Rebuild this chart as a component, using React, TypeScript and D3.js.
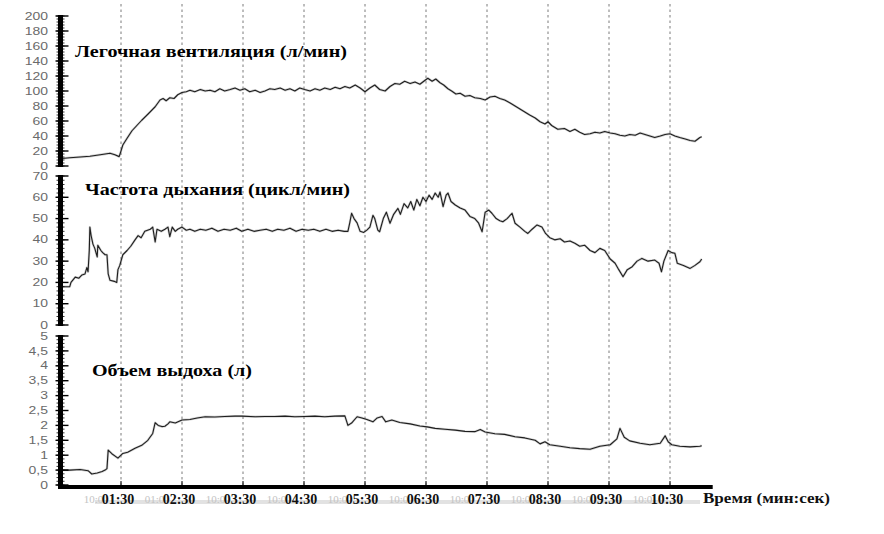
import React from 'react';
import * as d3 from 'd3';

const timeTicks = [1.5, 2.5, 3.5, 4.5, 5.5, 6.5, 7.5, 8.5, 9.5, 10.5];
const timeLabels = ['01:30', '02:30', '03:30', '04:30', '05:30', '06:30', '07:30', '08:30', '09:30', '10:30'];
const ghostTicks = [1.0, 2.0, 3.0, 4.0, 5.0, 6.0, 7.0, 8.0, 9.0, 10.0];
const ghostLabels = ['10:0', '01:0', '10:0', '10:0', '10:0', '10:0', '10:0', '10:0', '10:0', '10:0'];

const ventTicks = [0, 20, 40, 60, 80, 100, 120, 140, 160, 180, 200];
const ventTickLabels = ['0', '20', '40', '60', '80', '100', '120', '140', '160', '180', '200'];
const freqTicks = [0, 10, 20, 30, 40, 50, 60, 70];
const freqTickLabels = ['0', '10', '20', '30', '40', '50', '60', '70'];
const volTicks = [0, 0.5, 1, 1.5, 2, 2.5, 3, 3.5, 4, 4.5, 5];
const volTickLabels = ['0', '0,5', '1', '1,5', '2', '2,5', '3', '3,5', '4', '4,5', '5'];

const titles = ['Легочная вентиляция (л/мин)', 'Частота дыхания (цикл/мин)', 'Объем выдоха (л)'];
const xAxisTitle = 'Время (мин:сек)';

// [minutes, value]
const ventilation: [number, number][] = [
  [0.53, 10], [0.66, 11], [0.83, 12], [0.99, 13], [1.16, 15], [1.32, 17], [1.40, 15], [1.47, 12.5],
  [1.50, 20], [1.53, 28], [1.60, 37], [1.68, 47], [1.76, 54], [1.84, 61], [1.94, 69], [2.06, 79],
  [2.14, 88], [2.19, 90], [2.24, 87], [2.30, 91], [2.37, 90], [2.43, 95], [2.50, 98], [2.57, 99],
  [2.63, 101], [2.71, 99], [2.80, 102], [2.88, 100], [2.96, 101], [3.04, 99], [3.12, 103], [3.20, 100],
  [3.29, 102], [3.37, 104], [3.45, 101], [3.53, 103], [3.61, 99], [3.70, 101], [3.78, 98], [3.86, 100],
  [3.94, 103], [4.02, 102], [4.11, 104], [4.19, 101], [4.27, 103], [4.35, 100], [4.43, 104], [4.51, 102],
  [4.60, 100], [4.68, 103], [4.76, 101], [4.84, 104], [4.93, 102], [5.01, 105], [5.09, 103], [5.17, 106],
  [5.25, 104], [5.34, 108], [5.42, 104], [5.50, 99], [5.58, 104], [5.66, 108], [5.74, 102], [5.83, 100],
  [5.91, 106], [5.99, 110], [6.07, 109], [6.15, 113], [6.24, 110], [6.32, 112], [6.40, 109], [6.48, 114],
  [6.53, 117], [6.60, 113], [6.66, 116], [6.73, 111], [6.79, 108], [6.86, 103], [6.92, 100], [6.99, 96],
  [7.06, 97], [7.14, 93], [7.22, 94], [7.30, 91], [7.39, 90], [7.47, 88], [7.55, 92], [7.63, 93],
  [7.71, 90], [7.79, 88], [7.88, 84], [7.96, 80], [8.04, 76], [8.12, 72], [8.20, 68], [8.29, 64],
  [8.37, 59], [8.45, 56], [8.50, 59], [8.56, 54], [8.66, 49], [8.77, 50], [8.86, 46], [8.94, 49],
  [9.02, 45], [9.10, 42], [9.19, 43], [9.27, 45], [9.35, 44], [9.43, 46], [9.52, 44], [9.60, 43],
  [9.68, 41], [9.76, 40], [9.84, 42], [9.93, 41], [10.01, 44], [10.09, 42], [10.17, 40], [10.25, 38],
  [10.34, 40], [10.42, 42], [10.50, 43], [10.58, 40], [10.66, 38], [10.75, 36], [10.83, 34], [10.91, 33],
  [10.99, 38], [11.02, 39],
];

const frequency: [number, number][] = [
  [0.53, 18], [0.60, 18], [0.66, 18], [0.68, 20], [0.75, 22.5], [0.81, 22], [0.86, 23.5], [0.91, 24],
  [0.94, 27], [0.96, 25], [0.98, 35], [0.99, 46], [1.01, 42], [1.04, 38], [1.07, 36], [1.11, 32],
  [1.12, 37.5], [1.17, 35], [1.20, 34], [1.24, 33], [1.27, 33], [1.29, 24], [1.32, 21], [1.39, 20.5],
  [1.43, 20], [1.45, 26], [1.48, 28], [1.53, 33], [1.60, 35], [1.66, 37], [1.73, 40], [1.78, 42],
  [1.83, 41], [1.89, 44], [1.98, 45], [2.02, 46], [2.06, 39], [2.09, 45], [2.16, 44], [2.22, 45],
  [2.27, 46], [2.30, 41.5], [2.34, 46], [2.39, 44], [2.43, 45], [2.50, 46], [2.57, 44.5], [2.63, 45],
  [2.71, 44], [2.80, 45], [2.89, 44.5], [2.99, 45.5], [3.09, 44], [3.19, 45], [3.29, 44.5], [3.39, 45.5],
  [3.48, 44], [3.58, 45], [3.68, 44], [3.78, 44.5], [3.88, 45], [3.98, 44], [4.07, 45], [4.17, 44.5],
  [4.27, 45.5], [4.37, 44], [4.47, 45], [4.57, 44.5], [4.66, 45], [4.76, 44], [4.86, 45], [4.96, 44],
  [5.06, 44.5], [5.16, 44], [5.22, 44], [5.25, 48], [5.28, 52.5], [5.32, 50], [5.37, 48], [5.42, 44],
  [5.48, 43.5], [5.53, 44.6], [5.58, 46], [5.63, 51.5], [5.66, 50], [5.71, 44.6], [5.74, 43.8], [5.80, 50],
  [5.85, 53], [5.91, 47.8], [5.97, 52], [6.04, 54.8], [6.08, 52], [6.14, 57], [6.20, 55], [6.25, 58],
  [6.30, 54], [6.35, 59], [6.40, 56], [6.45, 60], [6.50, 58], [6.55, 61], [6.60, 59], [6.65, 62],
  [6.70, 60], [6.73, 62.5], [6.78, 55.6], [6.83, 61], [6.86, 62], [6.91, 58], [6.98, 56.4], [7.06, 55],
  [7.14, 54], [7.22, 51], [7.30, 50], [7.36, 48], [7.42, 43.8], [7.47, 53], [7.53, 54], [7.58, 52.5],
  [7.65, 50], [7.71, 49], [7.76, 48.5], [7.83, 50], [7.91, 52.5], [7.96, 47.8], [8.04, 46], [8.12, 44],
  [8.17, 43], [8.24, 45], [8.32, 47], [8.40, 46], [8.46, 43], [8.53, 41], [8.61, 40], [8.70, 40.5],
  [8.77, 39], [8.86, 39.5], [8.94, 38.4], [9.02, 37], [9.10, 37.5], [9.19, 35], [9.27, 34], [9.35, 36],
  [9.43, 35], [9.52, 31], [9.60, 29], [9.66, 26], [9.73, 22.7], [9.80, 26], [9.88, 27.4], [9.96, 30],
  [10.04, 31.3], [10.14, 30], [10.25, 30.5], [10.32, 29], [10.36, 25], [10.40, 30], [10.47, 35], [10.53, 34],
  [10.58, 33.7], [10.62, 29], [10.72, 28], [10.83, 26.6], [10.91, 28], [10.99, 29.7], [11.02, 31],
];

const volume: [number, number][] = [
  [0.53, 0.5], [0.66, 0.5], [0.83, 0.52], [0.96, 0.48], [1.02, 0.37], [1.11, 0.4], [1.19, 0.45], [1.24, 0.5],
  [1.27, 0.55], [1.29, 1.17], [1.35, 1.05], [1.45, 0.9], [1.53, 1.06], [1.61, 1.1], [1.73, 1.23], [1.84, 1.33],
  [1.94, 1.5], [2.02, 1.73], [2.06, 2.09], [2.11, 2.0], [2.17, 1.96], [2.22, 1.97], [2.27, 2.05], [2.30, 2.12],
  [2.39, 2.08], [2.50, 2.18], [2.63, 2.2], [2.75, 2.25], [2.88, 2.29], [3.04, 2.28], [3.20, 2.3], [3.37, 2.31],
  [3.48, 2.31], [3.70, 2.29], [3.86, 2.3], [4.02, 2.3], [4.19, 2.31], [4.35, 2.29], [4.51, 2.3], [4.68, 2.31],
  [4.84, 2.29], [5.01, 2.31], [5.17, 2.32], [5.22, 2.0], [5.28, 2.08], [5.37, 2.29], [5.45, 2.25], [5.53, 2.2],
  [5.63, 2.12], [5.70, 2.25], [5.78, 2.3], [5.84, 2.12], [5.94, 2.18], [6.07, 2.1], [6.24, 2.05], [6.40, 1.98],
  [6.52, 1.95], [6.65, 1.9], [6.81, 1.87], [6.98, 1.84], [7.14, 1.8], [7.30, 1.79], [7.39, 1.86], [7.47, 1.78],
  [7.63, 1.72], [7.79, 1.7], [7.96, 1.62], [8.12, 1.58], [8.29, 1.5], [8.37, 1.38], [8.45, 1.45], [8.53, 1.35],
  [8.70, 1.3], [8.86, 1.25], [9.02, 1.22], [9.19, 1.2], [9.35, 1.3], [9.52, 1.35], [9.63, 1.55], [9.68, 1.9],
  [9.75, 1.6], [9.84, 1.48], [10.01, 1.4], [10.17, 1.35], [10.34, 1.4], [10.42, 1.65], [10.47, 1.45], [10.53, 1.35],
  [10.66, 1.3], [10.83, 1.28], [10.99, 1.3], [11.02, 1.32],
];

const W = 884;
const H = 534;
const AXIS_X = 60.5;

export default function App() {
  const x = d3.scaleLinear().domain([0.5, 11.2]).range([60, 712.7]);

  const panels = [
    { data: ventilation, ticks: ventTicks, labels: ventTickLabels, y: d3.scaleLinear().domain([0, 200]).range([166, 16]), title: titles[0], tx: 75, ty: 57, tw: 272, minor: 5 },
    { data: frequency, ticks: freqTicks, labels: freqTickLabels, y: d3.scaleLinear().domain([0, 70]).range([325, 176]), title: titles[1], tx: 85, ty: 195, tw: 265, minor: 5 },
    { data: volume, ticks: volTicks, labels: volTickLabels, y: d3.scaleLinear().domain([0, 5]).range([485, 336]), title: titles[2], tx: 92, ty: 376, tw: 160, minor: 4 },
  ];

  return (
    <svg width={W} height={H} style={{ position: 'absolute', left: 0, top: 0, background: '#fff' }}>
      <rect x={0} y={0} width={W} height={H} fill="#fff" />
      {/* dashed gridlines */}
      {timeTicks.map((t, i) => (
        <line key={'g' + i} x1={x(t)} x2={x(t)} y1={4} y2={485} stroke="#7a7a7a" strokeWidth={1} strokeDasharray="2.5,3" />
      ))}
      {panels.map((p, pi) => {
        const line = d3.line<[number, number]>().x(d => x(d[0])).y(d => p.y(d[1]));
        const [y0, y1] = p.y.range();
        const step = p.ticks[1] - p.ticks[0];
        const minors: number[] = [];
        const dom = p.y.domain();
        for (let k = 0; k <= Math.round((dom[1] - dom[0]) / (step / p.minor)); k++) minors.push(dom[0] + k * step / p.minor);
        return (
          <g key={'p' + pi}>
            <path d={line(p.data) || ''} fill="none" stroke="#9a9a9a" strokeWidth={2.4} strokeOpacity={0.45} strokeLinejoin="round" />
            <path d={line(p.data) || ''} fill="none" stroke="#1e1e1e" strokeWidth={1.1} strokeLinejoin="round" />
            <rect x={AXIS_X - 2.5} y={y1 - 1} width={5} height={(pi === 2 ? 489 : y0 + 1) - (y1 - 1)} fill="#000" />
            {minors.map((v, k) => (
              <line key={'m' + k} x1={AXIS_X - 4} x2={AXIS_X + 4} y1={p.y(v)} y2={p.y(v)} stroke="#000" strokeWidth={0.8} />
            ))}
            {p.ticks.map((v, k) => (
              <line key={'t' + k} x1={AXIS_X - 5} x2={AXIS_X + 8} y1={p.y(v)} y2={p.y(v)} stroke="#000" strokeWidth={1.4} />
            ))}
            {p.ticks.map((v, k) => (
              <text key={'l' + k} transform={`translate(48,${p.y(v)}) scale(1.4,1)`} dy="0.36em" textAnchor="end"
                fontFamily="Liberation Sans, Arial, sans-serif" fontSize={10} fill="#6a6a6a">{p.labels[k]}</text>
            ))}
            <text x={p.tx} y={p.ty} textLength={p.tw} lengthAdjust="spacingAndGlyphs" fontFamily="Liberation Serif, Times New Roman, serif"
              fontWeight="bold" fontSize={17} fill="#000">{p.title}</text>
          </g>
        );
      })}
      {/* x axis */}
      <rect x={58} y={485} width={712.7 - 58} height={4} fill="#000" />
      {timeTicks.map((t, i) => (
        <line key={'xt' + i} x1={x(t)} x2={x(t)} y1={481} y2={486} stroke="#000" strokeWidth={1} />
      ))}
      <rect x={95} y={500} width={605} height={4} fill="#d6d6d6" opacity={0.7} />
      {ghostTicks.map((t, i) => (
        <text key={'gh' + i} x={x(t) + 3} y={503} textAnchor="middle" fontFamily="Liberation Serif, serif" fontSize={11} fill="#c4c4c4">{ghostLabels[i]}</text>
      ))}
      {timeTicks.map((t, i) => (
        <text key={'xl' + i} x={x(t) - 3} y={504} textAnchor="middle" fontFamily="Liberation Serif, Times New Roman, serif"
          fontWeight="bold" fontSize={14} fill="#111">{timeLabels[i]}</text>
      ))}
      <text x={703} y={503} textLength={127} lengthAdjust="spacingAndGlyphs" fontFamily="Liberation Serif, Times New Roman, serif"
        fontWeight="bold" fontSize={15} fill="#111">{xAxisTitle}</text>
    </svg>
  );
}
